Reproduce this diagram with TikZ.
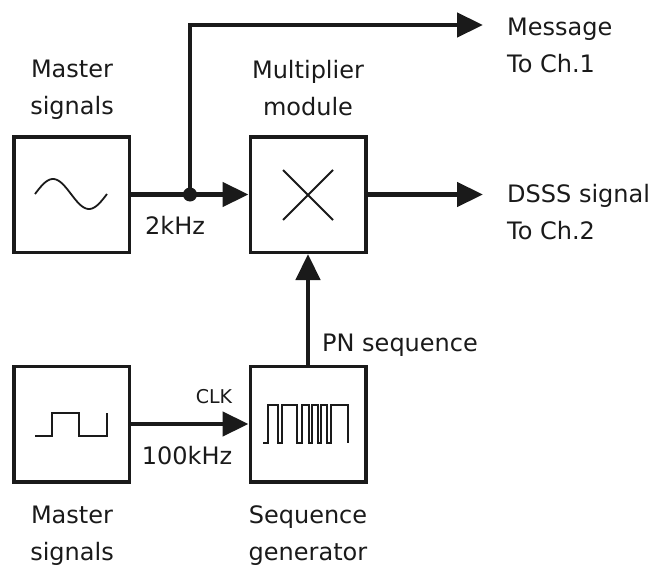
\documentclass[tikz,border=0pt]{standalone}
\usepackage{fontspec}
\setmainfont{DejaVu Sans}
\usetikzlibrary{arrows.meta,calc,positioning}
\definecolor{ink}{HTML}{1A1A1A}
\newcommand{\labelfont}{\fontsize{24}{37}\selectfont}
\newcommand{\tagfont}{\fontsize{19}{22}\selectfont}
\tikzset{
 every node/.append style={font=\labelfont,text=ink,align=center,inner sep=0pt},
 block/.style={draw=ink,fill=white,line width=3.5pt,minimum width=115.5pt,minimum height=115.5pt,inner sep=0pt},
 signal/.style={-{Triangle[length=26pt,width=24pt]},draw=ink,line width=4.5pt},
 glyph/.style={draw=ink,line width=1.8pt},
 word/.style={inner sep=0pt},
 tag/.style={font=\tagfont,inner sep=0pt},
}

\begin{document}
\begin{tikzpicture}[x=1pt,y=-1pt]
\useasboundingbox (0,0) rectangle (660,567);

\node[block] (sine) at (71.5,194.5) {};
\node[block] (mult) at (308,194.5) {};
\node[block] (clk) at (71.5,424) {};
\node[block] (seq) at (308,424) {};

\draw[glyph] plot[domain=0:360,samples=60,smooth] ({35+\x/360*72},{194-15*sin(\x)});
\draw[glyph] (283,170) -- (333,220) (283,220) -- (333,170);
\draw[glyph] (35,436) -- (52,436) -- (52,413) -- (79,413) -- (79,436) -- (107,436) -- (107,413);
\draw[glyph] (263,443) -| (268,405) -| (278,443) -| (282,405) -| (297,443) -| (302,405)
  -| (309,443) -| (312,405) -| (318,443) -| (321,405) -| (327,443) -| (331,405) -| (348,443);

\coordinate (tap) at (190,194.5);
\coordinate (msgtip) at (483,25);
\coordinate (dssstip) at (483,194.5);
\draw[signal] (sine.east) -- (mult.west);
\draw[signal] (tap) |- (msgtip);
\fill[ink] (tap) circle (7pt);
\draw[signal] (mult.east) -- (dssstip);
\draw[signal] (seq.north) -- (mult.south);
\draw[signal] (clk.east) -- (seq.west);

\node[word] (sinename) at (72,90) {Master\\signals};
\node[word] (multname) at (308,88) {Multiplier\\module};
\node[word,anchor=west,align=left] (msg) at (507,45) {Message\\To Ch.1};
\node[word,anchor=west,align=left] (dsss) at (507,212) {DSSS signal\\To Ch.2};
\node[word] (rate) at (175,225) {2kHz};
\node[tag] (clktag) at (214,397) {CLK};
\node[word] (clkrate) at (187,456) {100kHz};
\node[word,anchor=west] (pn) at (322,345) {PN sequence};
\node[word] (clkname) at (72,536) {Master\\signals};
\node[word] (seqname) at (308,536) {Sequence\\generator};

\end{tikzpicture}
\end{document}
